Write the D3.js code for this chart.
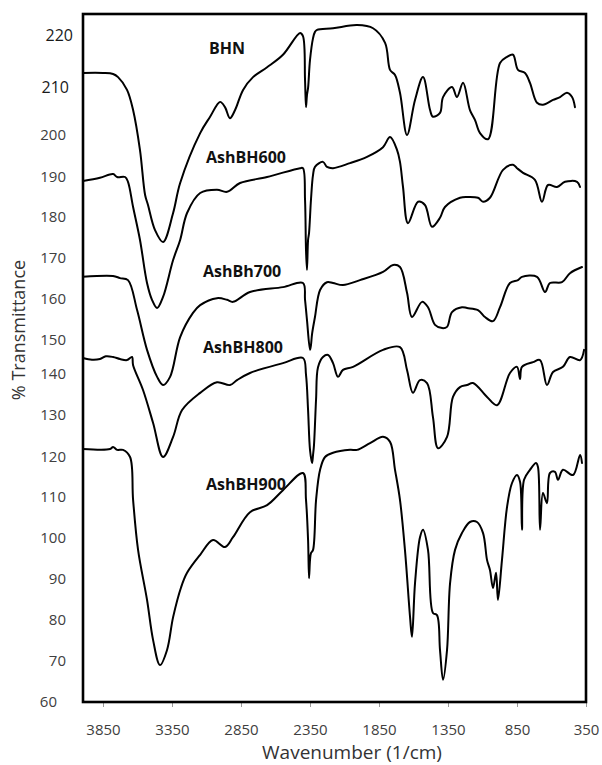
<!DOCTYPE html>
<html><head><meta charset="utf-8">
<script src="https://cdn.jsdelivr.net/npm/d3@7"></script>
<style>body{margin:0;background:#fff}svg{display:block}</style>
</head><body><svg id="c" width="602" height="765"></svg>
<script>
// ---------- data ----------
const seriesNames = ["BHN", "AshBH600", "AshBh700", "AshBH800", "AshBH900"];
const xTicks = [3850, 3350, 2850, 2350, 1850, 1350, 850, 350];
const yTicks = [60, 70, 80, 90, 100, 110, 120, 130, 140, 150, 160, 170, 180, 190, 200, 210, 220];

// [wavenumber (1/cm), % transmittance]
const BHN = [[3995,212.7],[3850,212.7],[3777,212.5],[3741,211.9],[3676,209.4],[3632,205.2],[3582,196.4],[3545,185.5],[3524,183],[3473,176.8],[3415,173.9],[3342,181],[3291,188.5],[3146,200.4],[3074,203.8],[3002,206.9],[2966,205.8],[2930,203.5],[2893,205.2],[2835,209.4],[2763,211.9],[2661,213.8],[2546,216.2],[2422,220.4],[2401,219.8],[2386,211.3],[2379,205.8],[2372,208.3],[2364,209.8],[2350,215.2],[2328,219.4],[2314,220.6],[2299,221],[2183,221.3],[2009,221.9],[1893,221.3],[1806,218.5],[1770,213.3],[1734,212.3],[1698,208.8],[1647,200],[1589,207.3],[1531,211.9],[1480,205.2],[1459,203.8],[1408,204.6],[1386,207.9],[1321,210],[1285,207.9],[1241,210.8],[1191,205.2],[1154,203.1],[1118,200.4],[1060,199],[973,214.6],[922,215.8],[879,216.2],[843,213.3],[792,212.7],[756,210.8],[705,206.7],[662,206.3],[589,207.3],[538,207.9],[488,208.8],[451,207.9],[430,205.8]];

const AshBH600 = [[3995,189],[3872,189.8],[3777,190.7],[3748,190],[3690,190],[3669,188.8],[3632,182.5],[3582,174.4],[3531,163.9],[3495,159.8],[3458,157.8],[3415,160.5],[3342,169.5],[3291,174.4],[3241,181],[3146,186],[3024,186.8],[2951,186.3],[2857,188.5],[2661,190],[2422,192.1],[2401,192.1],[2386,184.3],[2379,172],[2372,167.1],[2364,174.4],[2357,176.1],[2343,184.3],[2328,190.5],[2314,192.4],[2256,193.6],[2227,192.4],[2183,192.1],[2060,193.3],[1937,194.8],[1821,197.1],[1770,199.5],[1719,196.4],[1698,193.6],[1676,187.5],[1640,178.5],[1567,183.8],[1517,183],[1466,177.6],[1408,179.8],[1372,182.5],[1263,184.8],[1212,185],[1133,184.8],[1096,183.8],[1046,184.8],[951,191.7],[879,192.9],[850,192.1],[806,191],[720,189.3],[669,183.8],[625,188],[560,187.5],[502,188.8],[415,188.8],[393,187.5]];

const AshBh700 = [[3995,165.4],[3777,165.6],[3727,165.1],[3669,164.6],[3603,157.3],[3531,147.1],[3458,139.3],[3415,137.3],[3364,139.3],[3291,150.7],[3198,156.6],[3146,158.5],[3024,160.2],[2951,159.8],[2908,159.3],[2785,161.7],[2546,162.9],[2401,163.9],[2386,159.8],[2372,154.9],[2350,147.1],[2343,148.5],[2335,151.5],[2314,155.6],[2277,162.2],[2227,164.1],[2183,163.9],[2111,163.4],[1988,164.6],[1821,166.6],[1748,168.3],[1698,167.8],[1647,161.5],[1611,155.6],[1538,159.3],[1495,158],[1444,153.7],[1393,152.9],[1357,153.2],[1321,156.8],[1249,158],[1212,157.8],[1133,157.3],[1082,155.6],[1024,154.6],[973,158],[901,163.9],[843,164.6],[814,165.4],[705,165.4],[647,161.7],[611,163.9],[524,164.1],[466,166.3],[379,167.8]];

const AshBH800 = [[3995,144.7],[3930,144.2],[3872,144.4],[3830,145.2],[3777,145],[3727,144.4],[3676,144.1],[3640,145],[3632,142.6],[3560,136.1],[3487,128.1],[3415,120],[3342,124.8],[3277,131.2],[3146,135.4],[3024,138],[2930,137.3],[2879,138.5],[2785,140.3],[2546,143.2],[2401,144.7],[2379,139.8],[2364,131.2],[2350,121.7],[2335,118.5],[2328,120.5],[2321,122.9],[2306,133.9],[2292,142],[2256,145],[2219,145.6],[2183,143.2],[2147,139.3],[2111,141.2],[2038,142.1],[1821,147.1],[1698,147.9],[1647,141.2],[1604,135.4],[1553,138.5],[1502,137.8],[1459,129.5],[1422,122.1],[1357,124.8],[1314,134.4],[1263,136.8],[1212,137.3],[1169,137.8],[1067,134.4],[995,132.4],[901,140.3],[850,142.1],[828,138.8],[814,142.1],[734,143.5],[683,144.1],[633,137.3],[589,140.6],[517,142.1],[466,145],[393,144.1],[364,147.1]];

const AshBH900 = [[3995,121.9],[3799,121.9],[3777,122.4],[3748,121.7],[3705,121.7],[3654,120],[3632,109.3],[3596,97.1],[3531,84.9],[3487,75.1],[3437,69],[3386,72.7],[3342,80.7],[3284,88],[3241,91.5],[3146,95.9],[3053,99.5],[2966,97.8],[2908,100.2],[2785,106.3],[2661,108],[2546,111.7],[2401,116],[2379,109.3],[2364,99.5],[2357,90.2],[2350,94.6],[2343,96.3],[2328,97.1],[2306,109.3],[2277,116.8],[2241,120],[2183,121],[2060,121.7],[2009,121.7],[1915,123.3],[1821,124.8],[1770,123.6],[1734,116.8],[1698,109.3],[1662,97.1],[1625,80.7],[1611,75.9],[1589,89],[1553,100.2],[1531,102],[1495,97.1],[1459,81.7],[1430,81.2],[1408,72.7],[1386,65.4],[1357,72.7],[1335,89],[1299,97.1],[1249,101.2],[1191,103.9],[1140,103.9],[1096,101.2],[1067,94.6],[1046,92.2],[1024,87.8],[1002,91.5],[988,84.9],[959,94.6],[922,107.6],[886,113.5],[850,115.5],[828,113.8],[814,102],[799,114.3],[756,116.8],[712,118.5],[698,117.5],[683,102],[662,111],[633,108.5],[611,116],[575,116.3],[553,114.3],[517,116.8],[444,115.5],[393,120.5],[379,118.5]];

const seriesData = [BHN, AshBH600, AshBh700, AshBH800, AshBH900];

// ---------- layout ----------
const L = 83, R = 586, T = 14, B = 702;
const labelPos = [[209,54],[206,163],[203,277],[203,353],[206,490]];
const svg = d3.select("#c");

const x = d3.scaleLinear().domain([3995, 350]).range([L, R]);
// the printed value axis is not evenly spaced; piecewise scale follows its labels
const y = d3.scaleLinear().domain(yTicks)
  .range([702,661,620,579,538,497,457,415,374,340,299,258,217,177,135,87,35]);

// x axis ticks + labels
const xAxis = d3.axisBottom(x).tickValues(xTicks).tickSize(5).tickSizeOuter(0).tickFormat(d3.format("d"));
const gx = svg.append("g").attr("transform", `translate(0,${B})`).call(xAxis);
gx.select(".domain").remove();
gx.selectAll(".tick line").attr("stroke", "#999").attr("stroke-width", 1);
gx.selectAll(".tick text").attr("fill", "#404040").attr("font-family", "Open Sans")
  .attr("font-size", 15).attr("dy", "1.65em");

// y axis labels
const yAxis = d3.axisLeft(y).tickValues(yTicks).tickSize(0).tickPadding(17).tickFormat(d3.format("d"));
const gy = svg.append("g").attr("transform", `translate(${L},0)`).call(yAxis);
gy.select(".domain").remove();
gy.selectAll(".tick text").attr("font-family", "Open Sans")
  .attr("font-size", d => d >= 210 ? 16 : 15)
  .attr("fill", d => d >= 210 ? "#1a1a1a" : "#404040")
  .attr("dx", d => d === 220 ? 7 : d === 210 ? 3 : d === 60 ? -9 : 0);

// frame
svg.append("rect").attr("x", L).attr("y", T).attr("width", R - L).attr("height", B - T)
  .attr("fill", "none").attr("stroke", "#000").attr("stroke-width", 2.6);

// curves
const line = d3.line().x(d => x(d[0])).y(d => y(d[1])).curve(d3.curveCatmullRom.alpha(0.5));
svg.append("g").selectAll("path").data(seriesData).join("path")
  .attr("d", line).attr("fill", "none").attr("stroke", "#000")
  .attr("stroke-width", 2).attr("stroke-linejoin", "round").attr("stroke-linecap", "round");

// series labels
svg.append("g").selectAll("text").data(seriesNames).join("text")
  .attr("x", (d, i) => labelPos[i][0]).attr("y", (d, i) => labelPos[i][1])
  .attr("font-family", "Open Sans").attr("font-weight", "bold").attr("font-size", 16)
  .attr("fill", "#111").text(d => d);

// axis titles
svg.append("text").attr("x", 352).attr("y", 759).attr("text-anchor", "middle")
  .attr("font-family", "Open Sans").attr("font-size", 19).attr("fill", "#333")
  .text("Wavenumber (1/cm)");
svg.append("text").attr("transform", "translate(25,330) rotate(-90)").attr("text-anchor", "middle")
  .attr("font-family", "Open Sans").attr("font-size", 18).attr("fill", "#333")
  .text("% Transmittance");
</script></body></html>
